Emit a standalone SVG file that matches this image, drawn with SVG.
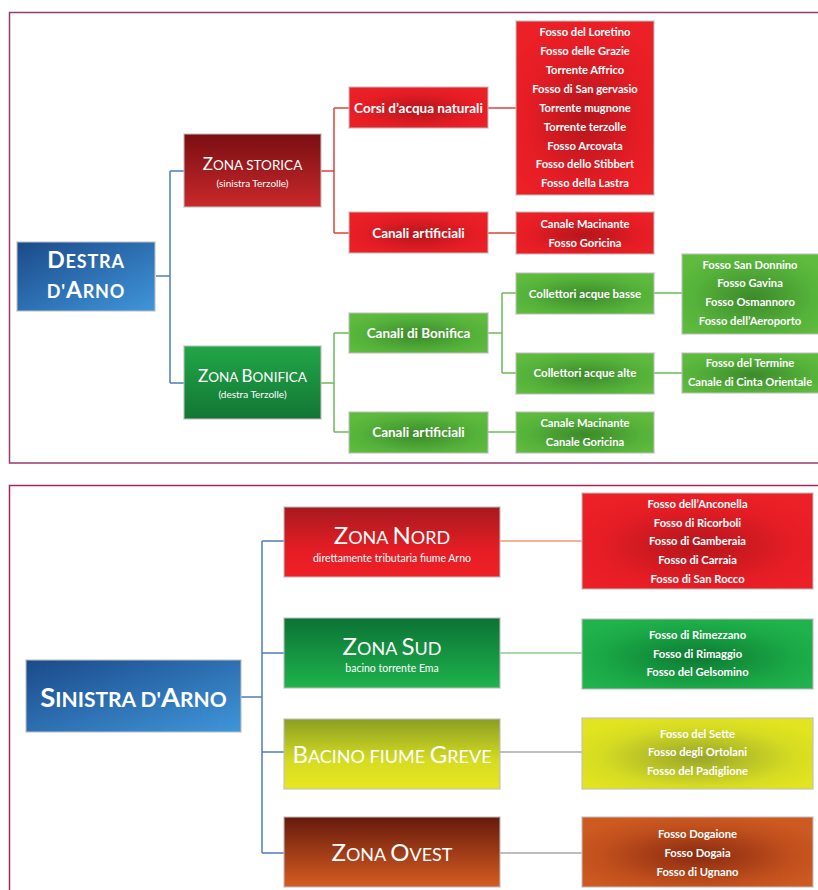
<svg xmlns="http://www.w3.org/2000/svg" width="818" height="890" viewBox="0 0 818 890">
<style>
  text{font-family:Lato,"Open Sans","Liberation Sans",sans-serif;fill:#ffffff;text-anchor:middle}
  .b{font-weight:bold}
  .item{font-weight:bold;font-size:11.2px}
  .lbl{font-weight:bold;font-size:13.5px}
  .coll{font-weight:bold;font-size:11.5px}
  .sub{font-size:10px}
  .subL{font-size:10.5px}
  .box{stroke:#bdbdbd;stroke-opacity:0.7;stroke-width:1.5}
  .frame{fill:none;stroke-width:1.5}
  .cn{fill:none;stroke-width:1.5}
</style>
<defs>
  <linearGradient id="gBlue" x1="0" y1="0" x2="1" y2="1">
    <stop offset="0" stop-color="#1b4a8a"/><stop offset="1" stop-color="#3f96da"/>
  </linearGradient>
  <linearGradient id="gDarkRed" x1="0" y1="0" x2="0" y2="1">
    <stop offset="0" stop-color="#7a0e12"/><stop offset="1" stop-color="#c9292c"/>
  </linearGradient>
  <radialGradient id="gRed" cx="0.5" cy="0.55" r="0.6">
    <stop offset="0" stop-color="#b4161c"/><stop offset="0.7" stop-color="#e61d25"/><stop offset="1" stop-color="#ec2027"/>
  </radialGradient>
  <linearGradient id="gNord" x1="0" y1="0" x2="0" y2="1">
    <stop offset="0" stop-color="#a51a1f"/><stop offset="0.6" stop-color="#e41d24"/><stop offset="1" stop-color="#ef2026"/>
  </linearGradient>
  <linearGradient id="gGreenDark" x1="0" y1="0" x2="0" y2="1">
    <stop offset="0" stop-color="#22a648"/><stop offset="1" stop-color="#127634"/>
  </linearGradient>
  <radialGradient id="gGreenLight" cx="0.5" cy="0.55" r="0.6">
    <stop offset="0" stop-color="#3c8a2a"/><stop offset="0.7" stop-color="#55b23a"/><stop offset="1" stop-color="#5fbb3d"/>
  </radialGradient>
  <linearGradient id="gSud" x1="0" y1="0" x2="0" y2="1">
    <stop offset="0" stop-color="#0c7235"/><stop offset="1" stop-color="#1fb34d"/>
  </linearGradient>
  <radialGradient id="gSudList" cx="0.5" cy="0.55" r="0.6">
    <stop offset="0" stop-color="#0d7a32"/><stop offset="0.7" stop-color="#1aa846"/><stop offset="1" stop-color="#20b24c"/>
  </radialGradient>
  <linearGradient id="gGreve" x1="0" y1="0" x2="0" y2="1">
    <stop offset="0" stop-color="#8a9e22"/><stop offset="0.6" stop-color="#d6dc22"/><stop offset="1" stop-color="#e8e620"/>
  </linearGradient>
  <radialGradient id="gGreveList" cx="0.5" cy="0.55" r="0.6">
    <stop offset="0" stop-color="#98a52c"/><stop offset="0.7" stop-color="#d6dc22"/><stop offset="1" stop-color="#e2e41f"/>
  </radialGradient>
  <linearGradient id="gOvest" x1="0" y1="0" x2="0" y2="1">
    <stop offset="0" stop-color="#661a0c"/><stop offset="1" stop-color="#d65c22"/>
  </linearGradient>
  <radialGradient id="gOvestList" cx="0.5" cy="0.55" r="0.6">
    <stop offset="0" stop-color="#8a2a10"/><stop offset="0.7" stop-color="#c2501d"/><stop offset="1" stop-color="#cd5a21"/>
  </radialGradient>
</defs>

<rect x="0" y="0" width="818" height="890" fill="#ffffff"/>
<rect class="frame" x="9.5" y="12.5" width="820" height="450.5" stroke="#983b6c"/>
<rect class="frame" x="9.5" y="485.5" width="820" height="420" stroke="#a3285a"/>

<g id="connectors">
  <path class="cn" stroke="#4d7fbf" d="M156,276 H170 M170,171 V383 M170,171 H184 M170,383 H184"/>
  <path class="cn" stroke="#d9463e" d="M321,171 H334 M334,108 V233 M334,108 H349 M334,233 H349 M488,108 H516 M488,233 H516"/>
  <path class="cn" stroke="#6dbb5a" d="M321,383 H334 M334,333 V432 M334,333 H349 M334,432 H349 M488,333 H502 M502,293 V373 M502,293 H516 M502,373 H516 M488,432 H516 M654,293 H682 M654,373 H682"/>
  <path class="cn" stroke="#4d7fbf" d="M241,697 H262 M262,541 V853 M262,541 H284 M262,653 H284 M262,752 H284 M262,853 H284"/>
  <path class="cn" stroke="#ef9b72" d="M500,541 H582"/>
  <path class="cn" stroke="#8ccc8c" d="M500,653 H582"/>
  <path class="cn" stroke="#a9a9a9" d="M500,752 H582 M500,853 H582"/>
</g>

<g id="destra">
  <rect class="box" x="17" y="242" width="138" height="69" fill="url(#gBlue)"/>
  <text x="86" y="268" class="b" letter-spacing="0.8"><tspan font-size="23">D</tspan><tspan font-size="18">ESTRA</tspan></text>
  <text x="86" y="298" class="b" letter-spacing="0.8"><tspan font-size="18">D'</tspan><tspan font-size="23">A</tspan><tspan font-size="18">RNO</tspan></text>
</g>

<g id="zona-storica">
  <rect class="box" x="184" y="134" width="137" height="73" fill="url(#gDarkRed)"/>
  <text x="252.5" y="170"><tspan font-size="17">Z</tspan><tspan font-size="13.5">ONA STORICA</tspan></text>
  <text x="252.5" y="187" class="sub">(sinistra Terzolle)</text>
</g>

<g id="zona-bonifica">
  <rect class="box" x="184" y="346" width="137" height="73" fill="url(#gGreenDark)"/>
  <text x="252.5" y="382"><tspan font-size="17">Z</tspan><tspan font-size="13.5">ONA </tspan><tspan font-size="17">B</tspan><tspan font-size="13.5">ONIFICA</tspan></text>
  <text x="252.5" y="398" class="sub">(destra Terzolle)</text>
</g>

<g id="corsi">
  <rect class="box" x="349" y="87" width="139" height="41" fill="url(#gRed)"/>
  <text x="418.5" y="112.5" class="lbl">Corsi d’acqua naturali</text>
</g>

<g id="canali-art-storica">
  <rect class="box" x="349" y="212" width="139" height="41" fill="url(#gRed)"/>
  <text x="418.5" y="237.5" class="lbl">Canali artificiali</text>
</g>

<g id="canali-bonifica">
  <rect class="box" x="349" y="313" width="139" height="40" fill="url(#gGreenLight)"/>
  <text x="418.5" y="337.5" class="lbl">Canali di Bonifica</text>
</g>

<g id="canali-art-bonifica">
  <rect class="box" x="349" y="412" width="139" height="41" fill="url(#gGreenLight)"/>
  <text x="418.5" y="436.5" class="lbl">Canali artificiali</text>
</g>

<g id="lista-corsi">
  <rect class="box" x="516" y="21" width="138" height="174" fill="url(#gRed)"/>
  <text x="585" y="36" class="item">Fosso del Loretino</text>
  <text x="585" y="55" class="item">Fosso delle Grazie</text>
  <text x="585" y="74" class="item">Torrente Affrico</text>
  <text x="585" y="93" class="item">Fosso di San gervasio</text>
  <text x="585" y="112" class="item">Torrente mugnone</text>
  <text x="585" y="131" class="item">Torrente terzolle</text>
  <text x="585" y="150" class="item">Fosso Arcovata</text>
  <text x="585" y="168" class="item">Fosso dello Stibbert</text>
  <text x="585" y="187" class="item">Fosso della Lastra</text>
</g>

<g id="lista-canali-storica">
  <rect class="box" x="516" y="212" width="138" height="42" fill="url(#gRed)"/>
  <text x="585" y="228" class="item">Canale Macinante</text>
  <text x="585" y="247" class="item">Fosso Goricina</text>
</g>

<g id="collettori-basse">
  <rect class="box" x="516" y="273" width="138" height="41" fill="url(#gGreenLight)"/>
  <text x="585" y="297.5" class="coll">Collettori acque basse</text>
</g>

<g id="collettori-alte">
  <rect class="box" x="516" y="353" width="138" height="41" fill="url(#gGreenLight)"/>
  <text x="585" y="377" class="coll">Collettori acque alte</text>
</g>

<g id="lista-canali-bonifica">
  <rect class="box" x="516" y="412" width="138" height="41" fill="url(#gGreenLight)"/>
  <text x="585" y="427" class="item">Canale Macinante</text>
  <text x="585" y="446" class="item">Canale Goricina</text>
</g>

<g id="lista-basse">
  <rect class="box" x="682" y="254" width="142" height="80" fill="url(#gGreenLight)"/>
  <text x="750" y="269" class="item">Fosso San Donnino</text>
  <text x="750" y="287" class="item">Fosso Gavina</text>
  <text x="750" y="306" class="item">Fosso Osmannoro</text>
  <text x="750" y="325" class="item">Fosso dell’Aeroporto</text>
</g>

<g id="lista-alte">
  <rect class="box" x="682" y="353" width="142" height="40" fill="url(#gGreenLight)"/>
  <text x="750" y="367" class="item">Fosso del Termine</text>
  <text x="750" y="386" class="item">Canale di Cinta Orientale</text>
</g>

<g id="sinistra">
  <rect class="box" x="26" y="660" width="215" height="72" fill="url(#gBlue)"/>
  <text x="133.5" y="707" class="b"><tspan font-size="27.5">S</tspan><tspan font-size="21">INISTRA D'</tspan><tspan font-size="27.5">A</tspan><tspan font-size="21">RNO</tspan></text>
</g>

<g id="zona-nord">
  <rect class="box" x="284" y="507" width="216" height="70" fill="url(#gNord)"/>
  <text x="392" y="544"><tspan font-size="24">Z</tspan><tspan font-size="18">ONA </tspan><tspan font-size="24">N</tspan><tspan font-size="18">ORD</tspan></text>
  <text x="392" y="562" class="subL">direttamente tributaria fiume Arno</text>
</g>

<g id="zona-sud">
  <rect class="box" x="284" y="618" width="216" height="70" fill="url(#gSud)"/>
  <text x="392" y="655"><tspan font-size="24">Z</tspan><tspan font-size="18">ONA </tspan><tspan font-size="24">S</tspan><tspan font-size="18">UD</tspan></text>
  <text x="392" y="672" class="subL">bacino torrente Ema</text>
</g>

<g id="bacino-greve">
  <rect class="box" x="284" y="719" width="216" height="70" fill="url(#gGreve)"/>
  <text x="392" y="763"><tspan font-size="24">B</tspan><tspan font-size="18">ACINO FIUME </tspan><tspan font-size="24">G</tspan><tspan font-size="18">REVE</tspan></text>
</g>

<g id="zona-ovest">
  <rect class="box" x="284" y="817" width="216" height="70" fill="url(#gOvest)"/>
  <text x="392" y="861"><tspan font-size="24">Z</tspan><tspan font-size="18">ONA </tspan><tspan font-size="24">O</tspan><tspan font-size="18">VEST</tspan></text>
</g>

<g id="lista-nord">
  <rect class="box" x="582" y="493" width="231" height="96" fill="url(#gRed)"/>
  <text x="697.5" y="508" class="item">Fosso dell’Anconella</text>
  <text x="697.5" y="527" class="item">Fosso di Ricorboli</text>
  <text x="697.5" y="545" class="item">Fosso di Gamberaia</text>
  <text x="697.5" y="564" class="item">Fosso di Carraia</text>
  <text x="697.5" y="583" class="item">Fosso di San Rocco</text>
</g>

<g id="lista-sud">
  <rect class="box" x="582" y="619" width="231" height="70" fill="url(#gSudList)"/>
  <text x="697.5" y="639" class="item">Fosso di Rimezzano</text>
  <text x="697.5" y="658" class="item">Fosso di Rimaggio</text>
  <text x="697.5" y="676" class="item">Fosso del Gelsomino</text>
</g>

<g id="lista-greve">
  <rect class="box" x="582" y="718" width="231" height="71" fill="url(#gGreveList)"/>
  <text x="697.5" y="738" class="item">Fosso del Sette</text>
  <text x="697.5" y="756" class="item">Fosso degli Ortolani</text>
  <text x="697.5" y="775" class="item">Fosso del Padiglione</text>
</g>

<g id="lista-ovest">
  <rect class="box" x="582" y="817" width="231" height="70" fill="url(#gOvestList)"/>
  <text x="697.5" y="838" class="item">Fosso Dogaione</text>
  <text x="697.5" y="857" class="item">Fosso Dogaia</text>
  <text x="697.5" y="876" class="item">Fosso di Ugnano</text>
</g>
</svg>
